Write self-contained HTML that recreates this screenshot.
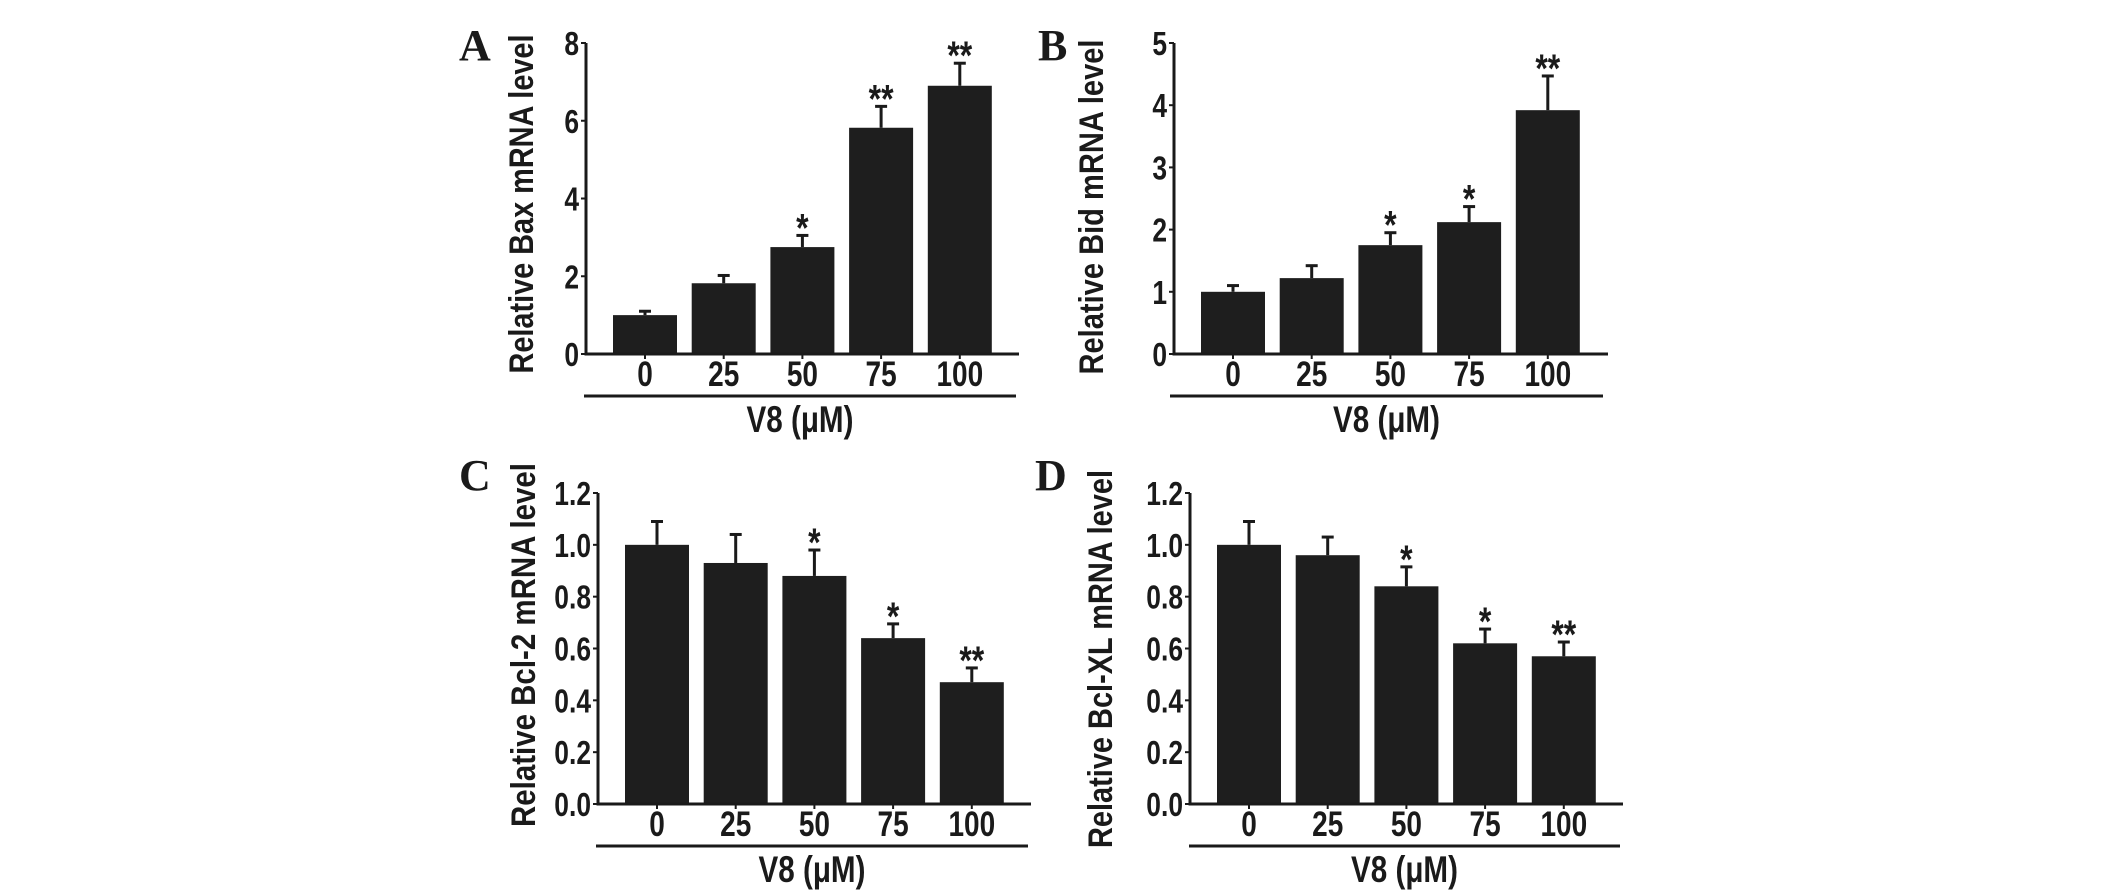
<!DOCTYPE html>
<html><head><meta charset="utf-8"><style>
html,body{margin:0;padding:0;background:#fff;}
svg{display:block;}
text{font-family:"Liberation Sans",sans-serif;font-weight:bold;fill:#1a1a1a;}
.lbl{font-family:"Liberation Serif",serif;font-weight:bold;}
</style></head><body>
<svg id="fig" width="2126" height="895" viewBox="0 0 2126 895" xmlns="http://www.w3.org/2000/svg"></svg>
<script>
const categories = ["0","25","50","75","100"];
const baxValues = [1.0, 1.82, 2.75, 5.82, 6.9];
const baxErrors = [0.1, 0.2, 0.3, 0.55, 0.58];
const baxStars = ["", "", "*", "**", "**"];
const baxTicks = ["0","2","4","6","8"];
const bidValues = [1.0, 1.22, 1.75, 2.12, 3.92];
const bidErrors = [0.1, 0.2, 0.2, 0.25, 0.55];
const bidStars = ["", "", "*", "*", "**"];
const bidTicks = ["0","1","2","3","4","5"];
const bcl2Values = [1.0, 0.93, 0.88, 0.64, 0.47];
const bcl2Errors = [0.09, 0.11, 0.1, 0.055, 0.055];
const bcl2Stars = ["", "", "*", "*", "**"];
const bcl2Ticks = ["0.0","0.2","0.4","0.6","0.8","1.0","1.2"];
const bclxlValues = [1.0, 0.96, 0.84, 0.62, 0.57];
const bclxlErrors = [0.09, 0.07, 0.075, 0.055, 0.055];
const bclxlStars = ["", "", "*", "*", "**"];
const bclxlTicks = ["0.0","0.2","0.4","0.6","0.8","1.0","1.2"];

const svg = document.getElementById('fig');
const NS = 'http://www.w3.org/2000/svg';
function mk(tag, attrs, parent){const e=document.createElementNS(NS,tag);for(const k in attrs)e.setAttribute(k,attrs[k]);(parent||svg).appendChild(e);return e;}
function ctext(x,y,size,anchor,str,parent){
  const t = mk('text',{x:0,y:0,'font-size':size,'text-anchor':anchor,transform:`translate(${x},${y}) scale(0.8,1)`},parent);
  t.textContent=str; return t;
}

function panel(p){
  const g = mk('g',{});
  
  
  const ymax = parseFloat(p.ticks[p.ticks.length-1]);
  const yS = v => p.y0 - (v/ymax)*(p.y0-p.yTop);
  const xS = i => p.c0 + i*78.7;
  const L = mk('text',{x:p.lx,y:p.ly,'font-size':44,class:'lbl'},g); L.textContent=p.id;
  
  
  const yt = mk('text',{x:0,y:0,'font-size':34,'text-anchor':'middle',textLength:p.tLen,lengthAdjust:'spacingAndGlyphs',transform:`translate(${p.tx},${p.tMid}) rotate(-90)`},g);
  yt.textContent=p.title;
  
  
  p.values.forEach((v,i)=>{
    const cx=xS(i), top=yS(v), et=yS(v+p.errors[i]);
    const eb = mk('line',{x1:cx,x2:cx,y1:top,y2:et,stroke:'#1a1a1a','stroke-width':3},g);
    
    
    const cap = mk('line',{x1:cx-6,x2:cx+6,y1:et,y2:et,stroke:'#1a1a1a','stroke-width':3},g);
    
    
    const r = mk('rect',{x:cx-32,y:top,width:64,height:p.y0-top,fill:'#1e1e1e'},g);
    
    
    if(p.stars[i]){
      const s = ctext(cx,et+6,40,'middle',p.stars[i],g);
      
      
    }
    const tk = mk('line',{x1:cx,x2:cx,y1:p.y0,y2:p.y0+5,stroke:'#1a1a1a','stroke-width':2},g);
    
    
    const tl = ctext(cx,p.y0+32,35,'middle',categories[i],g);
    
    
  });
  p.ticks.forEach(t=>{
    const y=yS(parseFloat(t));
    const tk = mk('line',{x1:p.ax-5,x2:p.ax,y1:y,y2:y,stroke:'#1a1a1a','stroke-width':2},g);
    
    
    const tl = ctext(p.ax-7,y+12,33,'end',t,g);
    
    
  });
  const ya = mk('line',{x1:p.ax,x2:p.ax,y1:p.yTop,y2:p.y0+1.5,stroke:'#1a1a1a','stroke-width':3},g);
  
  
  const xa = mk('line',{x1:p.ax,x2:p.xEnd,y1:p.y0,y2:p.y0,stroke:'#1a1a1a','stroke-width':3},g);
  
  
  const ul = mk('line',{x1:p.u0,x2:p.u1,y1:p.y0+42,y2:p.y0+42,stroke:'#1a1a1a','stroke-width':3},g);
  
  
  const xt = ctext((p.u0+p.u1)/2,p.y0+78,37,'middle','V8 (\u03bcM)',g);
  
  
}

panel({id:'A',values:baxValues,errors:baxErrors,stars:baxStars,ticks:baxTicks,title:'Relative Bax mRNA level',
  ax:586,yTop:43,y0:354,xEnd:1019,c0:645,u0:584,u1:1016,lx:459,ly:60,tx:533,tMid:204,tLen:339});
panel({id:'B',values:bidValues,errors:bidErrors,stars:bidStars,ticks:bidTicks,title:'Relative Bid mRNA level',
  ax:1174,yTop:43,y0:354,xEnd:1608,c0:1233,u0:1170,u1:1603,lx:1038,ly:60,tx:1103,tMid:207,tLen:335});
panel({id:'C',values:bcl2Values,errors:bcl2Errors,stars:bcl2Stars,ticks:bcl2Ticks,title:'Relative Bcl-2 mRNA level',
  ax:598,yTop:493,y0:804,xEnd:1031,c0:657,u0:596,u1:1028,lx:459,ly:490,tx:535,tMid:645,tLen:364});
panel({id:'D',values:bclxlValues,errors:bclxlErrors,stars:bclxlStars,ticks:bclxlTicks,title:'Relative Bcl-XL mRNA level',
  ax:1190,yTop:493,y0:804,xEnd:1623,c0:1249,u0:1189,u1:1620,lx:1035,ly:490,tx:1112,tMid:659,tLen:378});
</script>
</body></html>
